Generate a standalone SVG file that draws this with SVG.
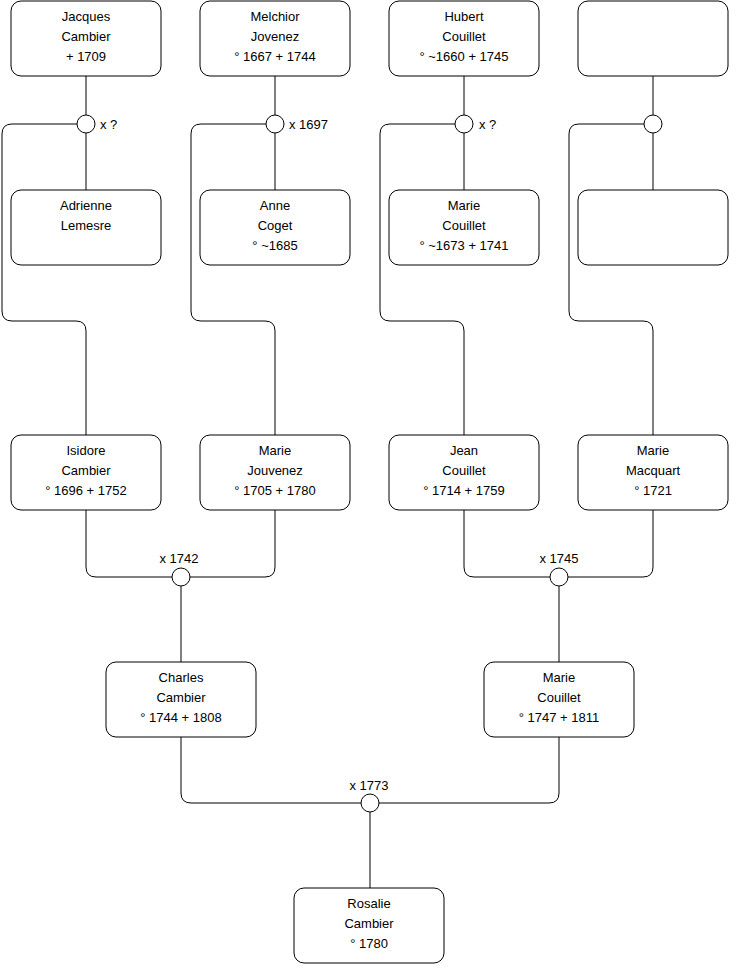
<svg xmlns="http://www.w3.org/2000/svg" width="740" height="975" viewBox="0 0 740 975">
<style>
.box{fill:#fff;stroke:#000;stroke-width:1}
.c{fill:#fff;stroke:#000;stroke-width:1}
.ln{fill:none;stroke:#000;stroke-width:1}
text{font-family:"Liberation Sans",Arial,sans-serif;font-size:13px;fill:#000}
.m{text-anchor:middle}
</style>
<rect width="740" height="975" fill="#fff"/>
<g id="connectors">
<path class="ln" d="M86,76 V115 M86,133 V190 M275,76 V115 M275,133 V190 M464,76 V115 M464,133 V190 M653,76 V115 M653,133 V190"/>
<path class="ln" d="M77,124 H12 Q2,124 2,134 V311 Q2,321 12,321 H76 Q86,321 86,331 V435"/>
<path class="ln" d="M266,124 H201 Q191,124 191,134 V311 Q191,321 201,321 H265 Q275,321 275,331 V435"/>
<path class="ln" d="M455,124 H390 Q380,124 380,134 V311 Q380,321 390,321 H454 Q464,321 464,331 V435"/>
<path class="ln" d="M644,124 H579 Q569,124 569,134 V311 Q569,321 579,321 H643 Q653,321 653,331 V435"/>
<path class="ln" d="M86,510 V567 Q86,577 96,577 H172 M275,510 V567 Q275,577 265,577 H190 M181,586 V662"/>
<path class="ln" d="M464,510 V567 Q464,577 474,577 H550 M653,510 V567 Q653,577 643,577 H568 M559,586 V662"/>
<path class="ln" d="M181,737 V793 Q181,803 191,803 H361 M559,737 V793 Q559,803 549,803 H379 M370,812 V888"/>
</g>
<g id="u1"><circle class="c" cx="86" cy="124" r="9"/><text x="100" y="129">x ?</text></g>
<g id="u2"><circle class="c" cx="275" cy="124" r="9"/><text x="289" y="129">x 1697</text></g>
<g id="u3"><circle class="c" cx="464" cy="124" r="9"/><text x="479" y="129">x ?</text></g>
<g id="u4"><circle class="c" cx="653" cy="124" r="9"/></g>
<g id="u5"><circle class="c" cx="181" cy="577" r="9"/><text class="m" x="179" y="563">x 1742</text></g>
<g id="u6"><circle class="c" cx="559" cy="577" r="9"/><text class="m" x="559" y="563">x 1745</text></g>
<g id="u7"><circle class="c" cx="370" cy="803" r="9"/><text class="m" x="369" y="790">x 1773</text></g>

<g id="jacques"><rect class="box" x="11" y="1" width="150" height="75" rx="10"/><text class="m" x="86" y="21">Jacques</text><text class="m" x="86" y="41">Cambier</text><text class="m" x="86" y="61"> + 1709</text></g>
<g id="melchior"><rect class="box" x="200" y="1" width="150" height="75" rx="10"/><text class="m" x="275" y="21">Melchior</text><text class="m" x="275" y="41">Jovenez</text><text class="m" x="275" y="61">° 1667 + 1744</text></g>
<g id="hubert"><rect class="box" x="389" y="1" width="150" height="75" rx="10"/><text class="m" x="464" y="21">Hubert</text><text class="m" x="464" y="41">Couillet</text><text class="m" x="464" y="61">° ~1660 + 1745</text></g>
<g id="unknown1"><rect class="box" x="578" y="1" width="150" height="75" rx="10"/></g>

<g id="adrienne"><rect class="box" x="11" y="190" width="150" height="75" rx="10"/><text class="m" x="86" y="210">Adrienne</text><text class="m" x="86" y="230">Lemesre</text></g>
<g id="anne"><rect class="box" x="200" y="190" width="150" height="75" rx="10"/><text class="m" x="275" y="210">Anne</text><text class="m" x="275" y="230">Coget</text><text class="m" x="275" y="250">° ~1685</text></g>
<g id="marie1"><rect class="box" x="389" y="190" width="150" height="75" rx="10"/><text class="m" x="464" y="210">Marie</text><text class="m" x="464" y="230">Couillet</text><text class="m" x="464" y="250">° ~1673 + 1741</text></g>
<g id="unknown2"><rect class="box" x="578" y="190" width="150" height="75" rx="10"/></g>

<g id="isidore"><rect class="box" x="11" y="435" width="150" height="75" rx="10"/><text class="m" x="86" y="455">Isidore</text><text class="m" x="86" y="475">Cambier</text><text class="m" x="86" y="495">° 1696 + 1752</text></g>
<g id="mariej"><rect class="box" x="200" y="435" width="150" height="75" rx="10"/><text class="m" x="275" y="455">Marie</text><text class="m" x="275" y="475">Jouvenez</text><text class="m" x="275" y="495">° 1705 + 1780</text></g>
<g id="jean"><rect class="box" x="389" y="435" width="150" height="75" rx="10"/><text class="m" x="464" y="455">Jean</text><text class="m" x="464" y="475">Couillet</text><text class="m" x="464" y="495">° 1714 + 1759</text></g>
<g id="mariem"><rect class="box" x="578" y="435" width="150" height="75" rx="10"/><text class="m" x="653" y="455">Marie</text><text class="m" x="653" y="475">Macquart</text><text class="m" x="653" y="495">° 1721</text></g>

<g id="charles"><rect class="box" x="106" y="662" width="150" height="75" rx="10"/><text class="m" x="181" y="682">Charles</text><text class="m" x="181" y="702">Cambier</text><text class="m" x="181" y="722">° 1744 + 1808</text></g>
<g id="mariec"><rect class="box" x="484" y="662" width="150" height="75" rx="10"/><text class="m" x="559" y="682">Marie</text><text class="m" x="559" y="702">Couillet</text><text class="m" x="559" y="722">° 1747 + 1811</text></g>

<g id="rosalie"><rect class="box" x="294" y="888" width="150" height="75" rx="10"/><text class="m" x="369" y="908">Rosalie</text><text class="m" x="369" y="928">Cambier</text><text class="m" x="369" y="948">° 1780</text></g>
</svg>
